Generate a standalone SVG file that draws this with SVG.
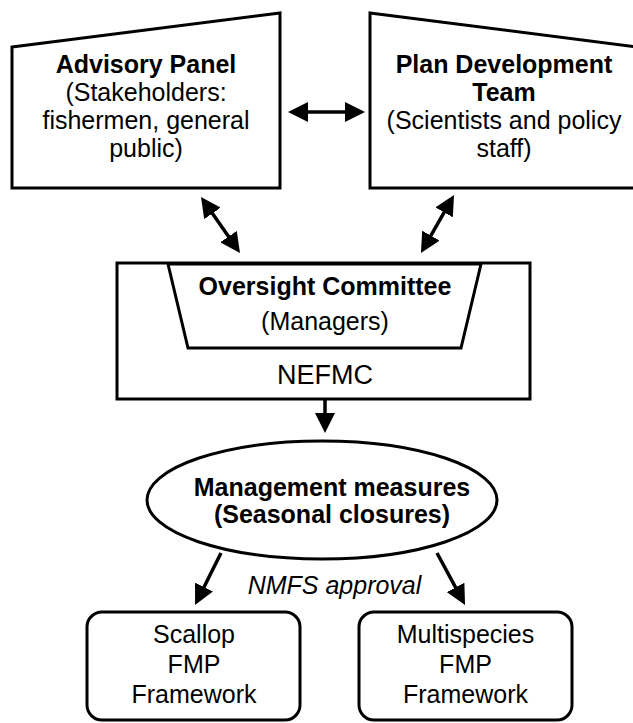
<svg xmlns="http://www.w3.org/2000/svg" width="633" height="723" viewBox="0 0 633 723">
<style>
.shape{fill:#fff;stroke:#000;stroke-width:3;stroke-linejoin:miter}
.conn{stroke:#000;stroke-width:3.5;fill:none}
text{font-family:"Liberation Sans",Arial,sans-serif;font-size:25px;fill:#000;text-anchor:middle}
.b{font-weight:bold}
.i{font-style:italic}
.big{font-size:27px}
</style>
<defs>
<marker id="ah" viewBox="0 0 20 20" markerWidth="20" markerHeight="20" refX="6" refY="10" markerUnits="userSpaceOnUse" orient="auto-start-reverse">
<path d="M0,0 L20,10 L0,20 z" fill="#000"/>
</marker>
</defs>
<rect width="633" height="723" fill="#fff"/>
<g id="advisory-panel">
<polygon class="shape" points="12,47 280,13 280,188 12,188"/>
<text x="146" y="73" class="b">Advisory Panel</text>
<text x="146" y="101">(Stakeholders:</text>
<text x="146" y="129">fishermen, general</text>
<text x="146" y="157">public)</text>
</g>
<g id="plan-development-team">
<polygon class="shape" points="370,13 637,47 637,188 370,188"/>
<text x="504" y="73" class="b">Plan Development</text>
<text x="504" y="101" class="b">Team</text>
<text x="504" y="129">(Scientists and policy</text>
<text x="504" y="157">staff)</text>
</g>
<g id="nefmc">
<rect class="shape" x="117" y="263" width="413" height="136"/>
<text x="325" y="384" class="big">NEFMC</text>
</g>
<g id="oversight-committee">
<polygon class="shape" points="168,264 481,264 461,348 188,348"/>
<text x="325" y="295" class="b">Oversight Committee</text>
<text x="325" y="330">(Managers)</text>
</g>
<g id="management-measures">
<ellipse class="shape" cx="322" cy="500" rx="175" ry="59"/>
<text x="332" y="496" class="b">Management measures</text>
<text x="332" y="523" class="b">(Seasonal closures)</text>
</g>
<g id="scallop-fmp">
<rect class="shape" x="87" y="612" width="213" height="108" rx="15"/>
<text x="194" y="643">Scallop</text>
<text x="194" y="673">FMP</text>
<text x="194" y="703">Framework</text>
</g>
<g id="multispecies-fmp">
<rect class="shape" x="359" y="612" width="213" height="108" rx="15"/>
<text x="465.5" y="643">Multispecies</text>
<text x="465.5" y="673">FMP</text>
<text x="465.5" y="703">Framework</text>
</g>
<g id="connectors">
<line class="conn" x1="302" y1="112" x2="351" y2="112" marker-start="url(#ah)" marker-end="url(#ah)"/>
<line class="conn" x1="209" y1="208.5" x2="232" y2="241.5" marker-start="url(#ah)" marker-end="url(#ah)"/>
<line class="conn" x1="447.1" y1="207.2" x2="427.9" y2="240.8" marker-start="url(#ah)" marker-end="url(#ah)"/>
<line class="conn" x1="325" y1="400" x2="325" y2="419" marker-end="url(#ah)"/>
<line class="conn" x1="221" y1="553" x2="201.3" y2="592.5" marker-end="url(#ah)"/>
<line class="conn" x1="437" y1="553" x2="458.4" y2="592.7" marker-end="url(#ah)"/>
<text x="334.5" y="594" class="i">NMFS approval</text>
</g>
</svg>
